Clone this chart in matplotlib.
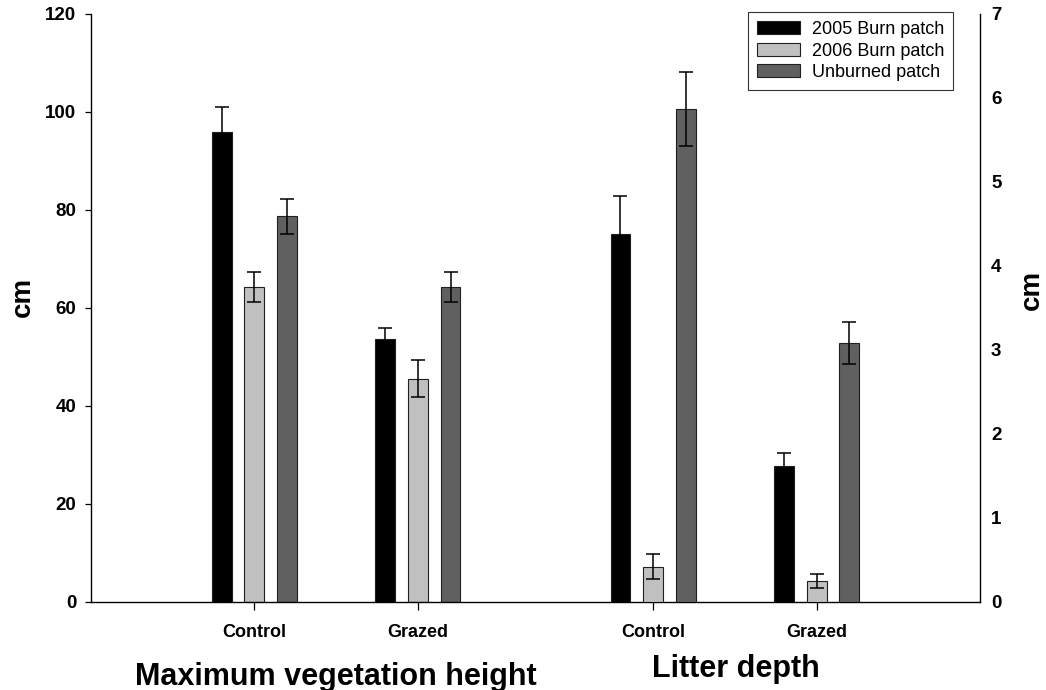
import numpy as np
import matplotlib
matplotlib.use("Agg")
import matplotlib.pyplot as plt

plt.rcParams['font.family'] = ['Liberation Sans', 'DejaVu Sans']

# treatments within each panel
groups = ["Control", "Grazed"]
series = ["2005 Burn patch", "2006 Burn patch", "Unburned patch"]
colors = ["#000000", "#c0c0c0", "#606060"]

# maximum vegetation height (cm), left axis
height_mean = [[96.0, 53.7], [64.3, 45.6], [78.7, 64.3]]
height_se = [[5.0, 2.3], [3.0, 3.7], [3.5, 3.0]]

# litter depth (cm), right axis
litter_mean = [[4.38, 1.62], [0.42, 0.25], [5.87, 3.08]]
litter_se = [[0.45, 0.15], [0.15, 0.08], [0.44, 0.25]]

left_pos = np.array([1.0, 2.0])
right_pos = np.array([3.44, 4.44])
offsets = [-0.2, 0.0, 0.2]
width = 0.122

fig = plt.figure(figsize=(10.46, 6.90), dpi=100)
ax = fig.add_axes([91 / 1046, 88 / 690, 889 / 1046, 588 / 690])
ax2 = ax.twinx()

handles = []
for i in range(3):
    b = ax.bar(left_pos + offsets[i], height_mean[i], width, color=colors[i],
               edgecolor="#202020", linewidth=0.8, yerr=height_se[i], capsize=5,
               error_kw=dict(elinewidth=1.1, capthick=1.1, ecolor="black"))
    ax2.bar(right_pos + offsets[i], litter_mean[i], width, color=colors[i],
            edgecolor="#202020", linewidth=0.8, yerr=litter_se[i], capsize=5,
            error_kw=dict(elinewidth=1.1, capthick=1.1, ecolor="black"))
    handles.append(b)

ax.set_xlim(0, 5.44)
ax.set_ylim(0, 120)
ax2.set_ylim(0, 7)

ax.set_yticks(np.arange(0, 121, 20))
ax2.set_yticks(np.arange(0, 8, 1))
ax.set_xticks(np.concatenate([left_pos, right_pos]))
ax.set_xticklabels(groups + groups)

for sp in ["top", "right"]:
    ax.spines[sp].set_visible(False)
for sp in ["top", "left", "bottom"]:
    ax2.spines[sp].set_visible(False)
for sp in ["left", "bottom"]:
    ax.spines[sp].set_linewidth(1.0)
ax2.spines["right"].set_linewidth(1.0)

ax.tick_params(axis="y", direction="out", length=4.5, width=0.9, pad=6,
               labelsize=13.5)
ax.tick_params(axis="x", direction="out", length=6, width=0.9, pad=10,
               labelsize=13)
ax2.tick_params(axis="y", length=0, pad=8, labelsize=13.5)
for lab in ax.get_yticklabels() + ax.get_xticklabels() + ax2.get_yticklabels():
    lab.set_fontweight("bold")

fig.text(23 / 1046, 1 - 297 / 690, "cm", rotation=90, fontsize=20,
         fontweight="bold", ha="center", va="center")
fig.text(1032 / 1046, 1 - 290 / 690, "cm", rotation=90, fontsize=20,
         fontweight="bold", ha="center", va="center")

fig.text(336 / 1046, 1 - 685 / 690, "Maximum vegetation height", fontsize=22,
         fontweight="bold", ha="center", va="baseline")
fig.text(736 / 1046, 1 - 677 / 690, "Litter depth", fontsize=22,
         fontweight="bold", ha="center", va="baseline")

leg = ax.legend(handles, series, loc="upper right",
                bbox_to_anchor=(953 / 1046, 1 - 12 / 690),
                bbox_transform=fig.transFigure, borderaxespad=0,
                fontsize=13, frameon=True, fancybox=False,
                handlelength=2.4, handleheight=0.72, handletextpad=0.65,
                labelspacing=0.25, borderpad=0.5)
leg.get_frame().set_edgecolor("black")
leg.get_frame().set_linewidth(0.8)
leg.set_zorder(10)

fig.savefig("out.png", dpi=100)
